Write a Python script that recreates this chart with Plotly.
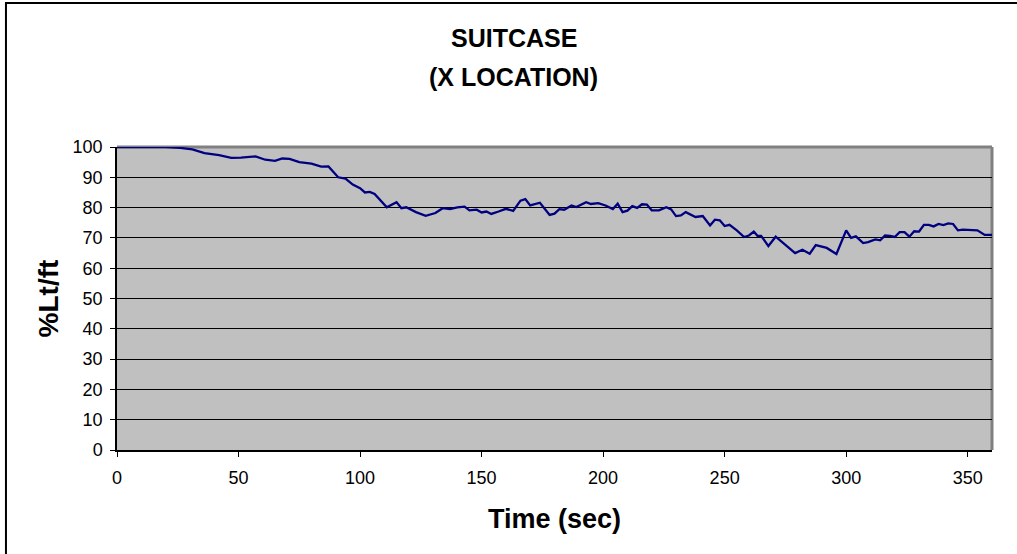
import plotly.graph_objects as go

time_sec = [0, 10, 20, 26, 31, 36, 42, 47, 51, 57, 61, 65, 68, 71, 75, 80, 84, 87, 91, 94,
            97, 100, 102, 104, 106, 111, 115, 117, 119, 123, 127, 131, 134, 137, 140, 143,
            145, 148, 150, 152, 154, 157, 160, 163, 166, 168, 170, 174, 178, 180, 182, 184,
            187, 189, 193, 195, 198, 201, 204, 206, 208, 210, 212, 214, 216, 218, 220, 223,
            226, 228, 230, 232, 234, 238, 241, 244, 246, 248, 250, 252, 255, 258, 260, 262,
            263.5, 265, 268, 271, 275, 279, 282, 285, 287.5, 292, 296, 300, 302, 304, 307,
            309, 312, 314, 316, 318, 320, 322, 324, 326, 328, 330, 332, 334, 336, 338, 340,
            342, 344, 346, 348, 352, 354, 357, 360]
pct_lt_ft = [100, 100, 100, 99.7, 99.2, 98.0, 97.3, 96.4, 96.5, 96.9, 95.8, 95.4, 96.2, 96.1,
             95.0, 94.5, 93.5, 93.6, 90.0, 89.6, 87.6, 86.4, 85.0, 85.2, 84.5, 80.1, 81.8,
             79.8, 80.1, 78.5, 77.3, 78.2, 79.8, 79.5, 80.1, 80.3, 79.1, 79.3, 78.4, 78.7,
             77.9, 78.7, 79.6, 78.9, 82.3, 82.8, 80.7, 81.6, 77.6, 78.0, 79.5, 79.3, 80.7,
             80.2, 81.8, 81.2, 81.5, 80.7, 79.5, 81.3, 78.5, 79.0, 80.5, 79.9, 81.1, 81.0,
             79.1, 79.1, 80.1, 79.4, 77.2, 77.4, 78.5, 76.9, 77.2, 74.1, 76.0, 75.8, 73.9,
             74.3, 72.5, 70.3, 70.8, 72.1, 70.7, 70.7, 67.3, 70.4, 67.8, 65.0, 66.1, 64.8,
             67.6, 66.7, 64.7, 72.5, 70.0, 70.5, 68.3, 68.6, 69.5, 69.2, 70.8, 70.7, 70.3,
             71.9, 71.9, 70.4, 72.2, 72.1, 74.3, 74.3, 73.8, 74.6, 74.2, 74.8, 74.6, 72.5,
             72.7, 72.7, 72.5, 71.0, 71.0]

x_ticks = [0, 50, 100, 150, 200, 250, 300, 350]
y_ticks = [0, 10, 20, 30, 40, 50, 60, 70, 80, 90, 100]
title_lines = ["SUITCASE", "(X LOCATION)"]

FONT = "Liberation Sans, Arial, sans-serif"

fig = go.Figure()
fig.add_trace(go.Scatter(x=time_sec, y=pct_lt_ft, mode="lines",
                         line=dict(color="#000080", width=2.3), showlegend=False))

fig.update_layout(
    width=1017, height=554,
    paper_bgcolor="white", plot_bgcolor="#C0C0C0",
    margin=dict(l=117, r=25, t=147, b=104),
    font=dict(family=FONT, color="black"),
    xaxis=dict(range=[0, 360], tickvals=x_ticks, showgrid=False, zeroline=False,
               showline=True, linecolor="black", linewidth=1.5,
               ticks="outside", ticklen=5, tickcolor="black", ticklabelstandoff=6,
               tickfont=dict(size=18),
               title=dict(text="<b>Time (sec)</b>", font=dict(size=27), standoff=22)),
    yaxis=dict(range=[0, 100], tickvals=y_ticks, showgrid=True, gridcolor="black",
               gridwidth=1, zeroline=False, showline=True, linecolor="black", linewidth=1.5,
               ticks="outside", ticklen=5, tickcolor="black", ticklabelstandoff=4,
               tickfont=dict(size=18),
               title=dict(text="<b>%Lt/ft</b>", font=dict(size=28), standoff=6)),
)

# chart title (two lines)
fig.add_annotation(text="<b>%s</b>" % title_lines[0], xref="paper", yref="paper",
                   x=0.4537, y=1.3597, xanchor="center", yanchor="middle",
                   showarrow=False, font=dict(size=25, family=FONT))
fig.add_annotation(text="<b>%s</b>" % title_lines[1], xref="paper", yref="paper",
                   x=0.4537, y=1.231, xanchor="center", yanchor="middle",
                   showarrow=False, font=dict(size=25, family=FONT))

# gray frame on top and right of plot area
fig.add_shape(type="line", xref="x domain", yref="y domain", x0=0, x1=1, y0=1, y1=1,
              line=dict(color="#808080", width=3), layer="below")
fig.add_shape(type="line", xref="x domain", yref="y domain", x0=1, x1=1, y0=0, y1=1,
              line=dict(color="#808080", width=3), layer="below")
# outer chart border
fig.add_shape(type="rect", xref="paper", yref="paper", x0=-0.1269, x1=1.2, y0=-0.6, y1=1.4752,
              line=dict(color="black", width=2), fillcolor="rgba(0,0,0,0)", layer="below")

fig.write_html("out.html", config={"displayModeBar": False},
               post_script="document.body.style.margin='0';")
